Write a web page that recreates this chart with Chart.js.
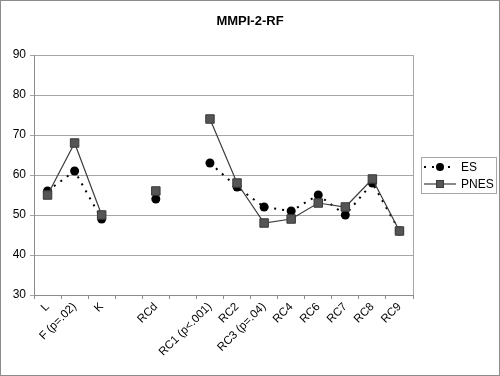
<!DOCTYPE html>
<html>
<head>
<meta charset="utf-8">
<script src="https://cdn.jsdelivr.net/npm/chart.js@4.4.0/dist/chart.umd.min.js"></script>
<style>
  html, body { margin: 0; padding: 0; background: #fff; }
  #wrap { width: 500px; height: 376px; position: relative; }
</style>
</head>
<body>
<div id="wrap"><canvas id="chartMmpi" width="500" height="376"></canvas></div>
<script>
// scales (blank categories keep the gaps between K, RCd and RC1)
const scaleLabels = ['L', 'F (p=.02)', 'K', '', 'RCd', '', 'RC1 (p<.001)', 'RC2', 'RC3 (p=.04)', 'RC4', 'RC6', 'RC7', 'RC8', 'RC9'];
const esValues = [56, 61, 49, null, 54, null, 63, 57, 52, 51, 55, 50, 58, 46];
const pnesValues = [55, 68, 50, null, 56, null, 74, 58, 48, 49, 53, 52, 59, 46];
const yTicks = [30, 40, 50, 60, 70, 80, 90];

const chartFrame = {
    id: 'chartFrame',
    beforeDraw: function (chart) {
        const { ctx } = chart;
        ctx.save();
        ctx.fillStyle = '#fff';
        ctx.fillRect(0, 0, chart.width, chart.height);
        ctx.restore();
    },
    afterDraw: function (chart) {
        const { ctx, chartArea } = chart;
        ctx.save();
        // outer border
        ctx.strokeStyle = '#8c8c8c';
        ctx.lineWidth = 1;
        ctx.strokeRect(0.5, 0.5, chart.width - 1, chart.height - 1);
        // plot area right edge
        ctx.strokeStyle = '#a6a6a6';
        ctx.beginPath();
        ctx.moveTo(Math.round(chartArea.right) + 0.5, chartArea.top);
        ctx.lineTo(Math.round(chartArea.right) + 0.5, chartArea.bottom);
        ctx.stroke();

        // title
        ctx.fillStyle = '#000';
        ctx.font = 'bold 13px "Liberation Sans", Arial, sans-serif';
        ctx.textAlign = 'center';
        ctx.textBaseline = 'middle';
        ctx.fillText('MMPI-2-RF', 250, 21);

        // legend
        const lx = 421, ly = 157, lw = 75, lh = 36;
        ctx.strokeStyle = '#a6a6a6';
        ctx.strokeRect(lx + 0.5, ly + 0.5, lw, lh);
        ctx.font = '12px "Liberation Sans", Arial, sans-serif';
        ctx.textAlign = 'left';
        chart.data.datasets.forEach((ds, i) => {
            const cy = ly + 10 + i * 17;
            ctx.strokeStyle = ds.borderColor;
            ctx.lineWidth = ds.borderWidth;
            ctx.setLineDash(ds.borderDash || []);
            ctx.beginPath();
            ctx.moveTo(lx + 3, cy);
            ctx.lineTo(lx + 35, cy);
            ctx.stroke();
            ctx.setLineDash([]);
            ctx.fillStyle = ds.pointBackgroundColor;
            ctx.strokeStyle = ds.pointBorderColor;
            ctx.lineWidth = 1;
            if (ds.pointStyle == 'circle') {
                ctx.beginPath();
                ctx.arc(lx + 19, cy, 4, 0, Math.PI * 2);
                ctx.fill();
            } else {
                ctx.fillRect(lx + 15, cy - 4, 8, 8);
                ctx.strokeRect(lx + 15.5, cy - 3.5, 7, 7);
            }
            ctx.fillStyle = '#000';
            ctx.fillText(ds.label, lx + 40, cy + 1);
        });
        ctx.restore();
    }
};

let ctx_mmpi = document.getElementById('chartMmpi').getContext('2d');

let mmpiChart = new Chart(ctx_mmpi, {
    type: 'line',
    data: {
        labels: scaleLabels,
        datasets: [
            {
                label: 'ES',
                data: esValues,
                borderColor: '#000',
                borderWidth: 2,
                borderDash: [2, 6],
                pointStyle: 'circle',
                pointRadius: 4.5,
                pointBackgroundColor: '#000',
                pointBorderColor: '#000',
                pointBorderWidth: 0,
                spanGaps: false,
                order: 1
            },
            {
                label: 'PNES',
                data: pnesValues,
                borderColor: '#3c3c3c',
                borderWidth: 1.2,
                pointStyle: 'rect',
                pointRadius: 6,
                pointBackgroundColor: '#555',
                pointBorderColor: '#3a3a3a',
                pointBorderWidth: 1,
                spanGaps: false,
                order: 0
            }
        ]
    },
    plugins: [chartFrame],
    options: {
        responsive: false,
        animation: false,
        layout: {
            padding: { top: 55, right: 87, left: 0, bottom: 10 }
        },
        plugins: {
            legend: { display: false },
            title: { display: false },
            tooltip: { enabled: false }
        },
        scales: {
            x: {
                offset: true,
                grid: {
                    display: true,
                    drawOnChartArea: false,
                    drawTicks: true,
                    tickLength: 4,
                    color: '#8c8c8c',
                    offset: true
                },
                border: { color: '#8c8c8c' },
                ticks: {
                    autoSkip: false,
                    maxRotation: 45,
                    minRotation: 45,
                    color: '#000',
                    padding: 1,
                    font: { family: '"Liberation Sans", Arial, sans-serif', size: 11.5 }
                },
                afterFit: function (scale) {
                    scale.height = 71;
                }
            },
            y: {
                min: 30,
                max: 90,
                afterBuildTicks: function (scale) {
                    scale.ticks = yTicks.map(v => ({ value: v }));
                },
                grid: {
                    color: '#a6a6a6',
                    tickLength: 4,
                    drawTicks: true
                },
                border: { color: '#8c8c8c' },
                ticks: {
                    color: '#000',
                    padding: 4,
                    font: { family: '"Liberation Sans", Arial, sans-serif', size: 12 }
                },
                afterFit: function (scale) {
                    scale.width = 34;
                }
            }
        }
    }
});
</script>
</body>
</html>
